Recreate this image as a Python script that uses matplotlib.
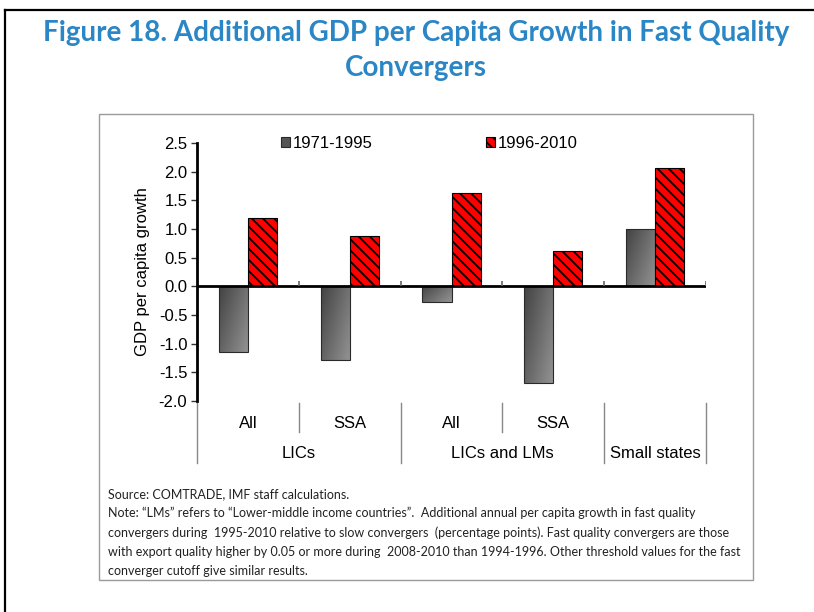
import matplotlib
matplotlib.use("Agg")
import matplotlib.pyplot as plt
import numpy as np
from matplotlib.patches import Patch, Rectangle
from matplotlib.lines import Line2D
import matplotlib.transforms as mtransforms

# data
sub_labels = ["All", "SSA", "All", "SSA", ""]
group_labels = ["LICs", "LICs and LMs", "Small states"]
group_spans = [(0, 1), (2, 3), (4, 4)]
early = [-1.15, -1.29, -0.28, -1.69, 1.0]
late = [1.20, 0.87, 1.62, 0.61, 2.07]
series_names = ["1971-1995", "1996-2010"]
yticks = [2.5, 2.0, 1.5, 1.0, 0.5, 0.0, -0.5, -1.0, -1.5, -2.0]

title_lines = ["Figure 18. Additional GDP per Capita Growth in Fast Quality", "Convergers"]
note_lines = [
    "Source: COMTRADE, IMF staff calculations.",
    "Note: \u201cLMs\u201d refers to \u201cLower-middle income countries\u201d.  Additional annual per capita growth in fast quality",
    "convergers during  1995-2010 relative to slow convergers  (percentage points). Fast quality convergers are those",
    "with export quality higher by 0.05 or more during  2008-2010 than 1994-1996. Other threshold values for the fast",
    "converger cutoff give similar results.",
]

W, H = 814, 612
plt.rcParams["font.family"] = ["Liberation Sans", "DejaVu Sans"]
plt.rcParams["hatch.linewidth"] = 1.3

fig = plt.figure(figsize=(W / 100, H / 100), dpi=100)


def fx(px):
    return px / W


def fy(py):
    return 1 - py / H


# outer frame (only left and top visible) and inner gray box
fig.add_artist(Line2D([fx(5), fx(5)], [fy(10), 0], color="black", lw=1.6))
fig.add_artist(Line2D([fx(5), 1], [fy(10), fy(10)], color="black", lw=1.6))
fig.add_artist(Rectangle((fx(99), fy(580)), fx(753) - fx(99), fy(114) - fy(580),
                         transform=fig.transFigure, fill=False, edgecolor="#9a9a9a", lw=1.0))

title_color = "#2A86C5"
fig.text(fx(416), fy(33), title_lines[0], ha="center", va="center", color=title_color,
         fontsize=20, fontweight="bold", family="Lato")
fig.text(fx(416), fy(68), title_lines[1], ha="center", va="center", color=title_color,
         fontsize=20, fontweight="bold", family="Lato")

for i, line in enumerate(note_lines):
    fig.text(fx(108), fy(494 + i * 19.2), line, ha="left", va="center", fontsize=9.0,
             family="Lato", color="#222222")

ax = fig.add_axes([fx(197), fy(401), fx(706) - fx(197), fy(143) - fy(401)])

x = np.arange(len(early))
bw = 0.285
c_dark = np.array([0.26, 0.26, 0.26])
c_light = np.array([0.58, 0.58, 0.58])

gray_bars = ax.bar(x - bw / 2, early, bw, facecolor="none", edgecolor="#2a2a2a", lw=0.8, zorder=3)
for rect in gray_bars:
    x0, y0 = rect.get_x(), rect.get_y()
    w, h = rect.get_width(), rect.get_height()
    xs = np.linspace(0, 1, 40)[None, :]
    ys = np.linspace(0, 1, 80)[:, None]
    t = 0.6 * xs + 0.4 * ys
    img = c_dark[None, None, :] + (c_light - c_dark)[None, None, :] * t[:, :, None]
    top, bot = max(y0, y0 + h), min(y0, y0 + h)
    im = ax.imshow(img, extent=(x0, x0 + w, bot, top), origin="upper", aspect="auto", zorder=2)
    im.set_clip_path(rect)

ax.bar(x + bw / 2, late, bw, facecolor="#FF0000", edgecolor="black", hatch="\\\\\\",
       lw=0.8, zorder=3)

ax.set_xlim(-0.5, len(early) - 0.5)
ax.set_ylim(-2.0, 2.5)
ax.set_yticks(yticks)
ax.set_yticklabels([f"{v:.1f}" for v in yticks], fontsize=12)
ax.tick_params(axis="y", direction="out", length=4, width=1, color="#333333", pad=3)
ax.set_xticks([])
for side in ["top", "right", "bottom"]:
    ax.spines[side].set_visible(False)
ax.spines["left"].set_linewidth(2)
ax.axhline(0, color="black", lw=2, zorder=4)
ax.set_ylabel("GDP per capita growth", fontsize=12, labelpad=6)

# small ticks on the zero line at group boundaries
bounds = np.arange(len(early) + 1) - 0.5
ax.vlines(bounds[1:], 0, 0.1, color="#666666", lw=1.2, zorder=4)

# multi-level category axis below the plot
trans = mtransforms.blended_transform_factory(ax.transData, ax.transAxes)
ph = 1 / 258
for i, lab in enumerate(sub_labels):
    if lab:
        ax.text(i, -22 * ph, lab, transform=trans, ha="center", va="center", fontsize=12)
for b in [0.5, 2.5]:
    ax.add_line(Line2D([b, b], [-2 * ph, -31 * ph], transform=trans, color="#888888", lw=1,
                       clip_on=False))
for b in [-0.5, 1.5, 3.5, 4.5]:
    ax.add_line(Line2D([b, b], [-2 * ph, -62 * ph], transform=trans, color="#888888", lw=1,
                       clip_on=False))
for lab, (a, b) in zip(group_labels, group_spans):
    ax.text((a + b) / 2, -52 * ph, lab, transform=trans, ha="center", va="center", fontsize=12)

handles = [Patch(facecolor="#555555", edgecolor="#2a2a2a", lw=0.8),
           Patch(facecolor="#FF0000", edgecolor="black", hatch="\\\\\\", lw=0.8)]
ax.legend(handles, series_names, loc="center left", bbox_to_anchor=(0.135, 1.0), ncol=2,
          frameon=False, fontsize=12, handlelength=0.55, handleheight=0.55,
          handletextpad=0.15, columnspacing=6.8)

fig.savefig("out.png", dpi=100)
